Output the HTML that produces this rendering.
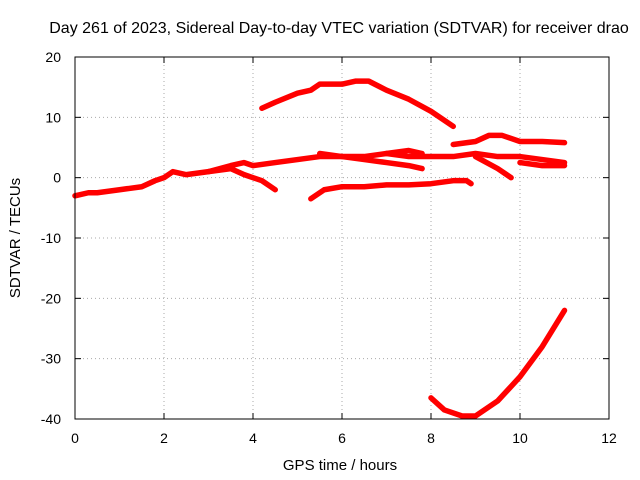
<!DOCTYPE html>
<html><head><meta charset="utf-8"><style>
body{margin:0;background:#fff}
svg{display:block;font-family:"Liberation Sans",sans-serif}
</style></head><body>
<svg width="640" height="480" viewBox="0 0 640 480">
<rect width="640" height="480" fill="#fff"/>
<text x="339" y="33" text-anchor="middle" font-size="16">Day 261 of 2023, Sidereal Day-to-day VTEC variation (SDTVAR) for receiver drao</text>
<g id="grid"></g>
<g id="series"></g>
<rect x="75" y="57" width="534" height="362" fill="none" stroke="#000"/>
<g id="ticks" font-size="14"></g>
<text x="340" y="470" text-anchor="middle" font-size="15">GPS time / hours</text>
<text transform="translate(20,238) rotate(-90)" text-anchor="middle" font-size="15">SDTVAR / TECUs</text>
</svg>
<script>
const xTicks=[0,2,4,6,8,10,12];
const yTicks=[20,10,0,-10,-20,-30,-40];
const s1x=[0,0.3,0.5,1,1.5,1.8,2,2.2,2.5,3,3.5,3.8,4,4.5,5,5.5,6,6.5,7,7.5,7.8];
const s1y=[-3,-2.5,-2.5,-2,-1.5,-0.5,0,1,0.5,1,2,2.5,2,2.5,3,3.5,3.5,3.5,4,4.5,4];
const s2x=[3,3.5,3.8,4.2,4.5];
const s2y=[1,1.5,0.5,-0.5,-2];
const s3x=[4.2,4.5,5,5.3,5.5,6,6.3,6.6,7,7.5,8,8.5];
const s3y=[11.5,12.5,14,14.5,15.5,15.5,16,16,14.5,13,11,8.5];
const s4x=[5.3,5.6,6,6.5,7,7.5,8,8.5,8.8,8.9];
const s4y=[-3.5,-2,-1.5,-1.5,-1.2,-1.2,-1,-0.5,-0.5,-1];
const s5x=[8.5,9,9.3,9.6,10,10.5,11];
const s5y=[5.5,6,7,7,6,6,5.8];
const s6x=[8,8.3,8.7,9,9.5,10,10.5,11];
const s6y=[-36.5,-38.5,-39.5,-39.5,-37,-33,-28,-22];
const s7x=[5.5,6,6.5,7,7.5,7.8];
const s7y=[4,3.5,3,2.5,2,1.5];
const s8x=[7,7.5,8,8.5,9,9.5,10,10.5,11];
const s8y=[4,3.5,3.5,3.5,4,3.5,3.5,3,2.5];
const s9x=[9,9.5,9.8];
const s9y=[3.5,1.5,0];
const s10x=[10,10.5,11];
const s10y=[2.5,2,2];
const X=v=>75+v*534/12;
const Y=v=>57+(20-v)*362/60;
const NS="http://www.w3.org/2000/svg";
const grid=document.getElementById('grid'),tk=document.getElementById('ticks'),sg=document.getElementById('series');
function mk(p,tag,a){const e=document.createElementNS(NS,tag);for(const k in a)e.setAttribute(k,a[k]);p.appendChild(e);return e;}
xTicks.forEach(t=>{
 if(t>0&&t<12){const l=mk(grid,'line',{x1:X(t),x2:X(t),y1:57,y2:419,stroke:'#aaa','stroke-dasharray':'1,3'});
 
 }
 const tx=mk(tk,'text',{x:X(t),y:443,'text-anchor':'middle'});tx.textContent=t;
 
 
 mk(tk,'line',{x1:X(t),x2:X(t),y1:419,y2:413,stroke:'#000'});
 mk(tk,'line',{x1:X(t),x2:X(t),y1:57,y2:63,stroke:'#000'});
});
yTicks.forEach(t=>{
 if(t<20&&t>-40){const l=mk(grid,'line',{x1:75,x2:609,y1:Y(t),y2:Y(t),stroke:'#aaa','stroke-dasharray':'1,3'});
 
 }
 const tx=mk(tk,'text',{x:61,y:Y(t)+5,'text-anchor':'end'});tx.textContent=t;
 
 
 mk(tk,'line',{x1:75,x2:81,y1:Y(t),y2:Y(t),stroke:'#000'});
 mk(tk,'line',{x1:609,x2:603,y1:Y(t),y2:Y(t),stroke:'#000'});
});
[[s1x,s1y],[s2x,s2y],[s3x,s3y],[s4x,s4y],[s5x,s5y],[s6x,s6y],[s7x,s7y],[s8x,s8y],[s9x,s9y],[s10x,s10y]].forEach((s,i)=>{
 const pts=s[0].map((x,j)=>X(x)+','+Y(s[1][j])).join(' ');
 const p=mk(sg,'polyline',{points:pts,fill:'none',stroke:'#f00','stroke-width':5.5,'stroke-linejoin':'round','stroke-linecap':'round'});
 
 
});
</script>
</body></html>
